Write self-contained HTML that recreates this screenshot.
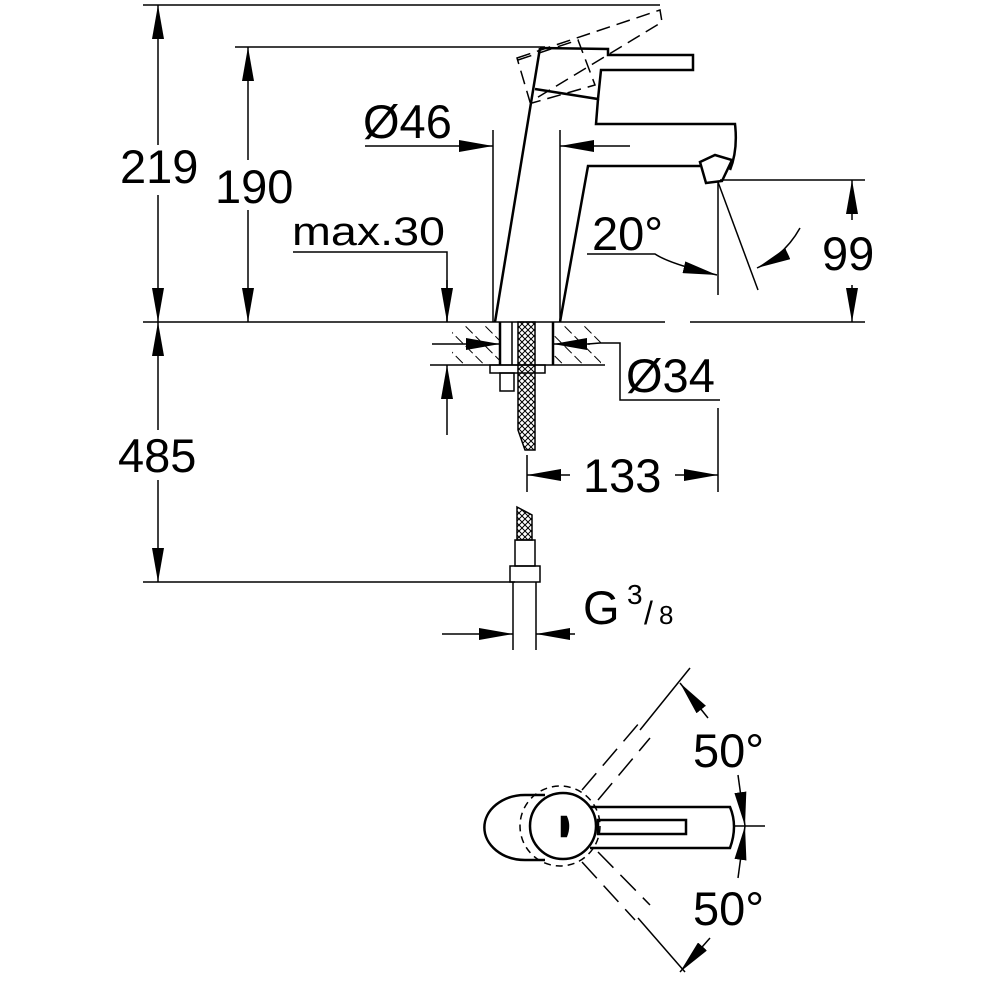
<!DOCTYPE html>
<html><head><style>html,body{margin:0;padding:0;background:#fff}svg{display:block}</style></head>
<body>
<svg width="1000" height="1000" viewBox="0 0 1000 1000" xmlns="http://www.w3.org/2000/svg" font-family="Liberation Sans, sans-serif">
<defs>
<marker id="b" markerWidth="34" markerHeight="12" refX="34" refY="6" orient="auto" markerUnits="userSpaceOnUse" viewBox="0 0 34 12"><path d="M0,0 L34,6 L0,12z" fill="#000"/></marker>
<pattern id="h" width="14" height="14" patternUnits="userSpaceOnUse" patternTransform="rotate(-45)"><line x1="0" y1="0" x2="0" y2="14" stroke="#000" stroke-width="2" stroke-dasharray="10 4"/></pattern>
<pattern id="x" width="6" height="6" patternUnits="userSpaceOnUse"><path d="M0,0 L6,6 M6,0 L0,6" stroke="#000" stroke-width="1"/></pattern>
</defs>
<g stroke="#000" fill="none" stroke-width="1.5">
<line x1="143" y1="5" x2="660" y2="5"/>
<line x1="158" y1="145" x2="158" y2="5" marker-end="url(#b)"/>
<line x1="158" y1="195" x2="158" y2="322" marker-end="url(#b)"/>
<line x1="158" y1="430" x2="158" y2="322" marker-end="url(#b)"/>
<line x1="158" y1="480" x2="158" y2="582" marker-end="url(#b)"/>
<line x1="143" y1="582" x2="515" y2="582"/>
<line x1="235" y1="47" x2="545" y2="47"/>
<line x1="248" y1="160" x2="248" y2="47" marker-end="url(#b)"/>
<line x1="248" y1="210" x2="248" y2="322" marker-end="url(#b)"/>
<line x1="143" y1="322" x2="665" y2="322"/>
<line x1="690" y1="322" x2="865" y2="322"/>
<polyline points="293,252 447,252 447,322" />
<line x1="447" y1="280" x2="447" y2="322" marker-end="url(#b)"/>
<line x1="365" y1="146" x2="493" y2="146" marker-end="url(#b)"/>
<line x1="630" y1="146" x2="560" y2="146" marker-end="url(#b)"/>
<line x1="493" y1="130" x2="493" y2="322"/>
<line x1="560" y1="130" x2="560" y2="322"/>
<g stroke-width="2.5">
<line x1="495" y1="322" x2="540" y2="48"/>
<path d="M560,322 L588,166 L700,166"/>
<path d="M540,48 L608,49 L608,55 L693,55 L693,70 L608,70 L601,70 L598,99 L535,89"/>
<path d="M598,99 L596,124 L735,124 Q738,150 730,170"/>
<path d="M700,162 L715,155 L732,160 L722,181 L706,183 Z"/>
</g>
<g stroke-dasharray="14 7">
<path d="M517,58 L660,10 L662,22 L530,102 Z"/>
<path d="M518,60 L578,40 L595,85 L532,103"/>
</g>
<line x1="720" y1="180" x2="865" y2="180"/>
<line x1="852" y1="220" x2="852" y2="180" marker-end="url(#b)"/>
<line x1="852" y1="285" x2="852" y2="322" marker-end="url(#b)"/>
<line x1="718" y1="182" x2="718" y2="295"/>
<line x1="718" y1="182" x2="758" y2="290"/>
<path d="M587,254 L655,254 Q670,264 717,275" marker-end="url(#b)"/>
<path d="M800,228 Q785,255 757,268" marker-end="url(#b)"/>
<rect x="452" y="324" width="48" height="40" fill="url(#h)" stroke="none"/>
<rect x="553" y="324" width="48" height="40" fill="url(#h)" stroke="none"/>
<line x1="430" y1="365" x2="605" y2="365"/>
<line x1="500" y1="322" x2="500" y2="365" stroke-width="2.5"/>
<line x1="553" y1="322" x2="553" y2="365" stroke-width="2.5"/>
<line x1="432" y1="344" x2="500" y2="344" marker-end="url(#b)"/>
<polyline points="588,344 600,343 620,343 620,400 720,400"/>
<line x1="590" y1="344" x2="553" y2="344" marker-end="url(#b)"/>
<line x1="447" y1="435" x2="447" y2="365" marker-end="url(#b)"/>
<rect x="490" y="365" width="55" height="8"/>
<rect x="500" y="373" width="14" height="18"/>
<path d="M518,322 L535,322 L535,450 L525,450 L518,430 Z" fill="url(#x)"/>
<line x1="512" y1="322" x2="512" y2="365"/>
<line x1="718" y1="408" x2="718" y2="492"/>
<line x1="527" y1="455" x2="527" y2="492"/>
<line x1="570" y1="475" x2="527" y2="475" marker-end="url(#b)"/>
<line x1="675" y1="475" x2="718" y2="475" marker-end="url(#b)"/>
<path d="M517,507 L532,515 L532,540 L517,540 Z" fill="url(#x)"/>
<rect x="515" y="540" width="20" height="26"/>
<rect x="510" y="566" width="30" height="16"/>
<line x1="513" y1="582" x2="513" y2="650"/>
<line x1="536" y1="582" x2="536" y2="650"/>
<line x1="442" y1="634" x2="513" y2="634" marker-end="url(#b)"/>
<line x1="575" y1="634" x2="536" y2="634" marker-end="url(#b)"/>
<g stroke-width="2.5">
<path d="M545,795 L525,795 A40,32 0 0 0 525,860 L545,860"/>
<circle cx="563" cy="826" r="33"/>
<path d="M590,807 L730,807 Q738,826 730,848 L590,848"/>
<rect x="598" y="820" width="88" height="14"/>
<path d="M562,817 L566,817 Q570,826 566,836 L562,836 Z" fill="#000"/>
</g>
<circle cx="560" cy="826" r="40" stroke-dasharray="7 5"/>
<g stroke-dasharray="22 10">
<line x1="582" y1="790" x2="640" y2="722"/>
<line x1="598" y1="800" x2="650" y2="738"/>
<line x1="582" y1="862" x2="635" y2="920"/>
<line x1="598" y1="852" x2="650" y2="905"/>
</g>
<line x1="640" y1="730" x2="690" y2="668"/>
<line x1="638" y1="918" x2="685" y2="972"/>
<line x1="708" y1="718" x2="680" y2="683" marker-end="url(#b)"/>
<line x1="710" y1="938" x2="680" y2="972" marker-end="url(#b)"/>
<line x1="738" y1="775" x2="745" y2="826" marker-end="url(#b)"/>
<line x1="738" y1="878" x2="745" y2="826" marker-end="url(#b)"/>
<line x1="735" y1="826" x2="765" y2="826"/>
</g>
<g font-size="47" fill="#000">
<text x="120" y="183">219</text>
<text x="215" y="203">190</text>
<text x="118" y="472">485</text>
<text x="363" y="138">Ø46</text>
<text x="292" y="245" font-size="40" textLength="153" lengthAdjust="spacingAndGlyphs">max.30</text>
<text x="592" y="250">20°</text>
<text x="822" y="270">99</text>
<text x="626" y="392">Ø34</text>
<text x="583" y="492">133</text>
<text x="583" y="624">G</text>
<text x="627" y="604" font-size="28">3</text>
<text x="644" y="624" font-size="32">/</text>
<text x="659" y="624" font-size="26">8</text>
<text x="693" y="767">50°</text>
<text x="693" y="925">50°</text>
</g>
</svg>
</body></html>
